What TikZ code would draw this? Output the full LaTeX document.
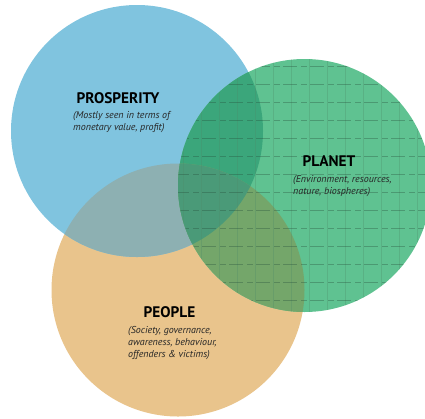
\documentclass[tikz,border=0pt]{standalone}
\usepackage{fontspec}
\setmainfont{PT Sans}
\definecolor{cblue}{HTML}{80C4DF}
\definecolor{cgreen}{HTML}{5FC291}
\definecolor{corange}{HTML}{E9C48C}
\definecolor{cbo}{HTML}{8DB0B2}
\definecolor{cgb}{HTML}{3BA67B}
\definecolor{cgo}{HTML}{74A66A}
\definecolor{cgbo}{HTML}{4A9A78}
\definecolor{cgrid}{HTML}{4E8A68}
\tikzset{
  head/.style={font=\bfseries\fontsize{15.3}{17}\selectfont, text=black, inner sep=0pt},
  sub/.style={font=\itshape\fontsize{10}{12}\selectfont, text=black!85, align=left, inner sep=0pt, anchor=north west},
}
\begin{document}
\begin{tikzpicture}[x=1pt,y=-1pt]
\useasboundingbox (0,0) rectangle (425,418);
\def\blueC{(137,131) circle (126)}
\def\greenC{(304.5,185.5) circle (126.5)}
\def\orangeC{(178,290) circle (126.5)}
% base circles
\fill[corange] \orangeC;
\fill[cblue] \blueC;
\fill[cgreen] \greenC;
% overlaps
\begin{scope}
  \clip \blueC; \fill[cbo] \orangeC;
\end{scope}
\begin{scope}
  \clip \greenC; \fill[cgb] \blueC;
\end{scope}
\begin{scope}
  \clip \greenC; \fill[cgo] \orangeC;
\end{scope}
\begin{scope}
  \clip \greenC; \clip \blueC; \fill[cgbo] \orangeC;
\end{scope}
% grid texture on planet
\begin{scope}
  \clip \greenC;
  \foreach \x in {183,201,...,430} \draw[cgrid, opacity=0.3, line width=0.8pt] (\x,55) -- (\x,315);
  \foreach \y in {66,84,...,315} \draw[black!60!cgreen, opacity=0.35, line width=0.9pt, dash pattern=on 14pt off 4pt on 6pt off 3pt] (175,\y) -- (430,\y);
\end{scope}
% texts
\node[head] (prosp) at (118,98) {PROSPERITY};
\node[sub] (prospt) at (73,111) {(Mostly seen in terms of\\monetary value, profit)};
\node[head] (planet) at (329,161) {PLANET};
\node[sub] (planett) at (293,175) {(Environment, resources,\\nature, biospheres)};
\node[head] (people) at (169.5,312) {PEOPLE};
\node[sub] (peoplet) at (128,326) {(Society, governance,\\awareness, behaviour,\\offenders \& victims)};
\end{tikzpicture}
\end{document}
